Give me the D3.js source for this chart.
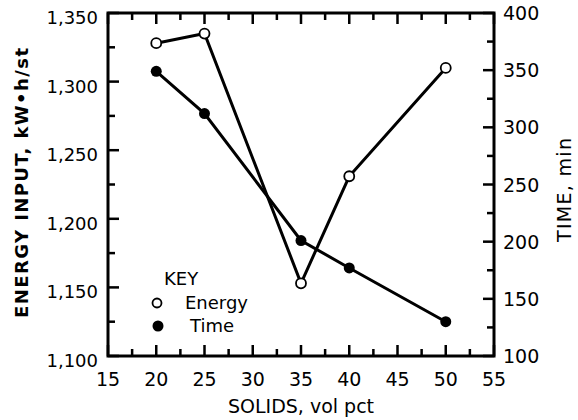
<!DOCTYPE html>
<html><head><meta charset="utf-8">
<script src="https://cdn.jsdelivr.net/npm/d3@7"></script>
<style>body{margin:0;background:#fff}svg{display:block}text{font-family:"DejaVu Sans",sans-serif;fill:#000}</style>
</head><body>
<svg id="c" width="578" height="420"></svg>
<script>
const solids = [20, 25, 35, 40, 50];
const energy = [1328, 1335, 1153, 1231, 1310];
const time = [349, 312, 201, 177, 130];
const xTicks = [15, 20, 25, 30, 35, 40, 45, 50, 55];
const yLeftTicks = [1100, 1150, 1200, 1250, 1300, 1350];
const yRightTicks = [100, 150, 200, 250, 300, 350, 400];

const svg = d3.select("#c");
const L = 108, R = 494, T = 13, B = 356;
const x = d3.scaleLinear().domain([15, 55]).range([L, R]);
const yL = d3.scaleLinear().domain([1100, 1350]).range([B, T]);
const yR = d3.scaleLinear().domain([100, 400]).range([B, T]);

const minorX = d3.range(15, 55.1, 2.5);
const minorYL = d3.range(1100, 1350.1, 25);
const minorYR = d3.range(100, 400.1, 25);
const isMajor = (v, s) => Math.abs(v / s - Math.round(v / s)) < 1e-6;
const tw = 2.5, majL = 11, minL = 7;

// inward ticks
const tg = svg.append("g").attr("fill", "#000");
tg.selectAll(".tb").data(minorX).enter().append("rect")
  .attr("x", d => x(d) - tw / 2).attr("width", tw)
  .attr("y", d => B - (isMajor(d, 5) ? majL : minL)).attr("height", d => isMajor(d, 5) ? majL : minL);
tg.selectAll(".tt").data(minorX).enter().append("rect")
  .attr("x", d => x(d) - tw / 2).attr("width", tw)
  .attr("y", T).attr("height", d => isMajor(d, 5) ? majL : minL);
tg.selectAll(".tl").data(minorYL).enter().append("rect")
  .attr("y", d => yL(d) - tw / 2).attr("height", tw)
  .attr("x", L).attr("width", d => isMajor(d, 50) ? majL : minL);
tg.selectAll(".tr").data(minorYR).enter().append("rect")
  .attr("y", d => yR(d) - tw / 2).attr("height", tw)
  .attr("x", d => R - (isMajor(d, 50) ? majL : minL)).attr("width", d => isMajor(d, 50) ? majL : minL);

// frame
svg.append("rect").attr("x", L).attr("y", T).attr("width", R - L).attr("height", B - T)
  .attr("fill", "none").attr("stroke", "#000").attr("stroke-width", 3);

// tick labels
const fmt = d3.format(",");
svg.selectAll(".xl").data(xTicks).enter().append("text")
  .attr("x", d => x(d)).attr("y", 386).attr("text-anchor", "middle")
  .attr("font-size", 19).text(d => d);
svg.selectAll(".yl").data(yLeftTicks).enter().append("text")
  .attr("x", 98).attr("y", d => yL(d) + 11).attr("text-anchor", "end")
  .attr("font-size", 18).text(d => fmt(d));
svg.selectAll(".yr").data(yRightTicks).enter().append("text")
  .attr("x", 503).attr("y", d => yR(d) + 7).attr("text-anchor", "start")
  .attr("font-size", 19).text(d => d);

// axis titles
svg.append("text").attr("x", 301).attr("y", 413).attr("text-anchor", "middle")
  .attr("font-size", 19).text("SOLIDS, vol pct");
svg.append("text").attr("transform", "translate(28,183) rotate(-90)").attr("text-anchor", "middle")
  .attr("font-size", 18).attr("font-weight", "bold")
  .attr("textLength", 270).attr("lengthAdjust", "spacing").text("ENERGY INPUT, kW\u2022h/st");
svg.append("text").attr("transform", "translate(571,190) rotate(-90)").attr("text-anchor", "middle")
  .attr("font-size", 19).attr("textLength", 104).attr("lengthAdjust", "spacing").text("TIME, min");

// lines and markers
const lineE = d3.line().x((d, i) => x(solids[i])).y(d => yL(d));
const lineT = d3.line().x((d, i) => x(solids[i])).y(d => yR(d));
svg.append("path").attr("d", lineE(energy)).attr("fill", "none").attr("stroke", "#000").attr("stroke-width", 3);
svg.append("path").attr("d", lineT(time)).attr("fill", "none").attr("stroke", "#000").attr("stroke-width", 3);
svg.selectAll(".te").data(time).enter().append("circle")
  .attr("cx", (d, i) => x(solids[i])).attr("cy", d => yR(d)).attr("r", 5.5).attr("fill", "#000");
svg.selectAll(".ee").data(energy).enter().append("circle")
  .attr("cx", (d, i) => x(solids[i])).attr("cy", d => yL(d)).attr("r", 5)
  .attr("fill", "#fff").attr("stroke", "#000").attr("stroke-width", 1.8);

// legend
svg.append("text").attr("x", 164).attr("y", 285).attr("font-size", 18).text("KEY");
svg.append("circle").attr("cx", 157).attr("cy", 303).attr("r", 4.5).attr("fill", "#fff").attr("stroke", "#000").attr("stroke-width", 1.8);
svg.append("text").attr("x", 185).attr("y", 309).attr("font-size", 18).text("Energy");
svg.append("circle").attr("cx", 158).attr("cy", 326).attr("r", 5.5).attr("fill", "#000");
svg.append("text").attr("x", 190).attr("y", 332).attr("font-size", 18).text("Time");
</script>
</body></html>
